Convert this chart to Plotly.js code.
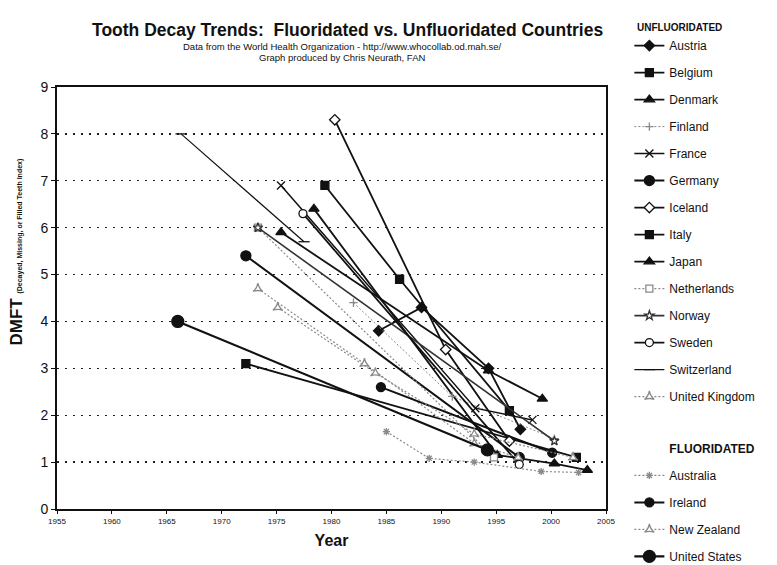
<!DOCTYPE html>
<html><head><meta charset="utf-8">
<script src="https://cdn.plot.ly/plotly-3.0.1.min.js"></script>
<style>body{margin:0;background:#fff}#chart{width:777px;height:565px}</style>
</head><body><div id="chart"></div>
<script>
// ---- data (year, DMFT) ----
const austriaX = [1984.3, 1988.2, 1994.3, 1997.2];
const austriaY = [3.8, 4.3, 3.0, 1.7];
const belgiumX = [1972.2, 2002.3];
const belgiumY = [3.1, 1.1];
const denmarkX = [1978.4, 1995.1, 2000.3, 2003.3];
const denmarkY = [6.4, 1.15, 0.97, 0.83];
const finlandX = [1982.0, 1991.0, 2000.3];
const finlandY = [4.4, 2.4, 1.5];
const franceX = [1975.4, 1993.1, 1998.3];
const franceY = [6.9, 2.15, 1.9];
const germanyX = [1972.2, 1997.1];
const germanyY = [5.4, 1.1];
const icelandX = [1980.3, 1990.4, 1996.2];
const icelandY = [8.3, 3.4, 1.45];
const italyX = [1979.4, 1986.2, 1996.2];
const italyY = [6.9, 4.9, 2.1];
const japanX = [1975.4, 1994.3, 1999.2];
const japanY = [5.9, 2.95, 2.35];
const netherlandsX = [1973.3, 1994.8];
const netherlandsY = [6.0, 1.1];
const norwayX = [1973.3, 2000.3];
const norwayY = [6.0, 1.45];
const swedenX = [1977.4, 1997.1];
const swedenY = [6.3, 0.95];
const switzerlandX = [1966.3, 1977.5];
const switzerlandY = [8.0, 5.7];
const ukX = [1973.3, 1983.0, 1993.0, 1997.0];
const ukY = [4.7, 3.1, 1.4, 1.1];
const australiaX = [1985.0, 1988.9, 1993.0, 1999.1, 2002.5];
const australiaY = [1.65, 1.08, 1.0, 0.8, 0.78];
const irelandX = [1984.5, 2000.1];
const irelandY = [2.6, 1.2];
const newzealandX = [1975.1, 1984.0, 1993.0, 2002.0];
const newzealandY = [4.3, 2.9, 1.6, 1.1];
const usX = [1966.0, 1994.2];
const usY = [4.0, 1.26];

const xTicks = [1955, 1960, 1965, 1970, 1975, 1980, 1985, 1990, 1995, 2000, 2005];
const yTicks = [0, 1, 2, 3, 4, 5, 6, 7, 8, 9];

const BLK = '#111', GRY = '#8a8a8a';
let g = 0;
function tr(name, x, y, sym, size, color, width, dash, fill, leg) {
  return {
    type: 'scatter', mode: 'lines+markers', name: name, x: x, y: y,
    legend: leg || 'legend', legendgroup: 'g' + (g++),
    line: {color: color, width: width, dash: dash},
    marker: {symbol: sym, size: size, color: fill,
             line: {color: color, width: 1.3}},
    hoverinfo: 'x+y+name'
  };
}
function header(name, leg) {
  return {type: 'scatter', mode: 'lines', name: name, x: [null], y: [null],
    legend: leg, legendgroup: 'g' + (g++), line: {color: 'rgba(0,0,0,0)', width: 0},
    hoverinfo: 'skip'};
}

const data = [
  tr('Austria', austriaX, austriaY, 'diamond', 8, BLK, 1.8, 'solid', BLK),
  tr('Belgium', belgiumX, belgiumY, 'square', 8, BLK, 1.8, 'solid', BLK),
  tr('Denmark', denmarkX, denmarkY, 'triangle-up', 9, BLK, 1.8, 'solid', BLK),
  tr('Finland', finlandX, finlandY, 'cross-thin-open', 6, GRY, 1, '2px,2px', GRY),
  tr('France', franceX, franceY, 'x-thin-open', 8, BLK, 1.5, 'solid', BLK),
  tr('Germany', germanyX, germanyY, 'circle', 10, BLK, 2, 'solid', BLK),
  tr('Iceland', icelandX, icelandY, 'diamond', 8, BLK, 1.8, 'solid', '#fff'),
  tr('Italy', italyX, italyY, 'square', 8, BLK, 1.8, 'solid', BLK),
  tr('Japan', japanX, japanY, 'triangle-up', 9, BLK, 1.8, 'solid', BLK),
  tr('Netherlands', netherlandsX, netherlandsY, 'square', 7, GRY, 1.2, '2px,2px', '#fff'),
  tr('Norway', norwayX, norwayY, 'star', 7, '#333', 1.6, 'solid', '#fff'),
  tr('Sweden', swedenX, swedenY, 'circle', 8, BLK, 1.8, 'solid', '#fff'),
  tr('Switzerland', switzerlandX, switzerlandY, 'line-ew-open', 8, BLK, 1.2, 'solid', BLK),
  tr('United Kingdom', ukX, ukY, 'star-triangle-up', 7, GRY, 1.2, '2px,2px', '#fff'),
  header('<b>FLUORIDATED</b>', 'legend2'),
  tr('Australia', australiaX, australiaY, 'asterisk-open', 6, GRY, 1.2, '2px,2px', GRY, 'legend2'),
  tr('Ireland', irelandX, irelandY, 'circle', 9, BLK, 2, 'solid', BLK, 'legend2'),
  tr('New Zealand', newzealandX, newzealandY, 'star-triangle-up', 7, GRY, 1.2, '2px,2px', '#fff', 'legend2'),
  tr('United States', usX, usY, 'circle', 12, BLK, 2.2, 'solid', BLK, 'legend2')
];

const legBase = {
  xref: 'container', yref: 'container',
  xanchor: 'left', yanchor: 'top', x: 0.81,
  font: {size: 12, color: '#111'}, tracegroupgap: 8,
  bgcolor: 'rgba(0,0,0,0)', itemwidth: 30, maxheight: 1
};

const layout = {
  width: 777, height: 565,
  margin: {l: 57, r: 171, t: 87, b: 56, autoexpand: false},
  paper_bgcolor: '#fff', plot_bgcolor: '#fff',
  font: {family: 'Liberation Sans, Arial, sans-serif', color: '#111'},
  showlegend: true,
  legend: Object.assign({}, legBase, {y: 0.968,
    title: {text: '  <b>UNFLUORIDATED</b>', font: {size: 10}}}),
  legend2: Object.assign({}, legBase, {y: 0.232}),
  xaxis: {
    range: [1955, 2005], tickvals: xTicks, ticktext: xTicks.map(String),
    showgrid: false, zeroline: false, showline: true, mirror: true,
    linecolor: '#111', linewidth: 2, ticks: 'outside', ticklen: 3, tickcolor: '#111',
    tickfont: {size: 8, family: 'Liberation Sans, Arial, sans-serif'},
    title: {text: '<b>Year</b>', font: {size: 16}, standoff: 10}
  },
  yaxis: {
    range: [0, 9], tickvals: yTicks, ticktext: yTicks.map(String),
    showgrid: true, gridcolor: '#222', griddash: '2px,6px', gridwidth: 1.3,
    zeroline: false, showline: true, mirror: true,
    linecolor: '#111', linewidth: 2, ticks: 'outside', ticklen: 4, tickcolor: '#111',
    tickfont: {size: 14}
  },
  annotations: [
    {xref: 'paper', yref: 'paper', x: 0.53, y: 1.135, xanchor: 'center', yanchor: 'middle', showarrow: false,
     text: '<b>Tooth Decay Trends:  Fluoridated vs. Unfluoridated Countries</b>', font: {size: 17.5}},
    {xref: 'paper', yref: 'paper', x: 0.52, y: 1.097, xanchor: 'center', yanchor: 'middle', showarrow: false,
     text: 'Data from the World Health Organization - http://www.whocollab.od.mah.se/', font: {size: 9.5}},
    {xref: 'paper', yref: 'paper', x: 0.52, y: 1.071, xanchor: 'center', yanchor: 'middle', showarrow: false,
     text: 'Graph produced by Chris Neurath, FAN', font: {size: 9.5}},
    {xref: 'paper', yref: 'paper', x: -0.073, y: 0.61, xanchor: 'center', yanchor: 'middle', showarrow: false,
     textangle: -90,
     text: '<b>DMFT <span style="font-size:7px">(Decayed, Missing, or Filled Teeth Index)</span></b>', font: {size: 17}}
  ]
};
Plotly.newPlot('chart', data, layout, {displayModeBar: false, staticPlot: true});
</script></body></html>
